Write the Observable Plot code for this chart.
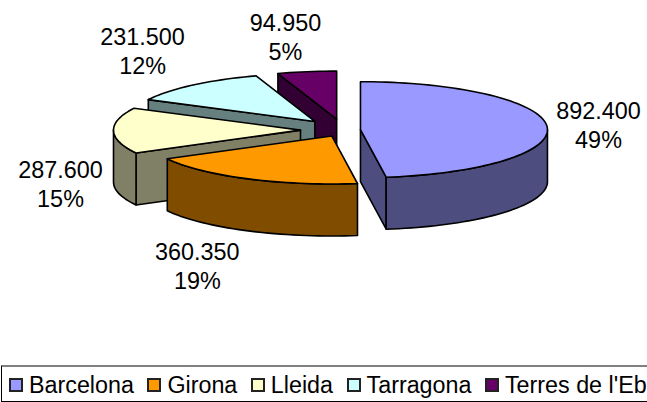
<!DOCTYPE html>
<html>
<head>
<meta charset="utf-8">
<script src="https://cdn.jsdelivr.net/npm/d3@7"></script>
<script src="https://cdn.jsdelivr.net/npm/@observablehq/plot@0.6"></script>
<style>
html,body{margin:0;padding:0;background:#fff;overflow:hidden;width:647px;height:402px}
#chart svg{display:block;background:#fff}
#legend{box-sizing:border-box;height:37px;width:700px;border:1px solid #000;border-top:2px solid #808080;
 position:absolute;left:1px;top:365px;white-space:nowrap;font:23.3px "Liberation Sans",Arial,sans-serif;color:#000;display:flex;align-items:center;padding-left:7px;padding-top:3px}
#legend .sw{display:inline-block;box-sizing:border-box;width:14px;height:14px;border:2px solid #222;margin-right:6px}
#legend .it{display:inline-flex;align-items:center;margin-right:13.5px;line-height:1}
</style>
</head>
<body>
<div id="chart"></div>
<div id="legend"></div>
<script>
const names = ["Barcelona", "Girona", "Lleida", "Tarragona", "Terres de l'Ebre"];
const values = [892.4, 360.35, 287.6, 231.5, 94.95];
const valueLabels = ["892.400", "360.350", "287.600", "231.500", "94.950"];
const percentLabels = ["49%", "19%", "15%", "12%", "5%"];
const topColors = ["#9999FF", "#FF9900", "#FFFFCC", "#CCFFFF", "#660066"];
const sideColors = ["#4D4D80", "#804D00", "#808066", "#668080", "#330033"];

// Pie geometry settings, like a spreadsheet's 3-D pie options
const pie = {cx: 343, cy: 129.5, rx: 187, ry: 48, depth: 52};
const explosion = [17, 26, 43, 44, 43];
const labelOffset = [[51.5, -2], [-50, 86.5], [-53, 52.5], [-50.5, -35], [-21.5, -35.5]];
const drawOrder = [4, 3, 2, 1, 0];

const total = d3.sum(values);
const rad = d => d * Math.PI / 180;
let acc = 0;
const slices = values.map((v, i) => {
  const a0 = acc / total * 360;
  acc += v;
  const a1 = acc / total * 360;
  const mid = (a0 + a1) / 2;
  const cx = pie.cx + explosion[i] * Math.sin(rad(mid));
  const cy = pie.cy - explosion[i] * Math.cos(rad(mid)) * pie.ry / pie.rx;
  const at = (deg, z = 0) => ({
    x: cx + pie.rx * Math.sin(rad(deg)),
    y: cy - pie.ry * Math.cos(rad(deg)) + z
  });
  return {i, a0, a1, mid, cx, cy, at};
});

function arc(s, from, to, z = 0) {
  const n = Math.max(2, Math.ceil((to - from) / 2));
  return d3.range(n + 1).map(k => s.at(from + (to - from) * k / n, z));
}

const polygons = [];
for (const idx of drawOrder) {
  const s = slices[idx];
  const d = pie.depth;
  const apex = {x: s.cx, y: s.cy};
  const apexLow = {x: s.cx, y: s.cy + d};
  const side = sideColors[idx], top = topColors[idx];
  // radial wall at the slice start
  if (Math.sin(rad(s.a0)) < -1e-6) {
    polygons.push({fill: side, pts: [apex, s.at(s.a0), s.at(s.a0, d), apexLow, apex]});
  }
  // radial wall at the slice end
  if (Math.sin(rad(s.a1)) > 1e-6) {
    polygons.push({fill: side, pts: [apex, s.at(s.a1), s.at(s.a1, d), apexLow, apex]});
  }
  // outer wall, front half only
  const f0 = Math.max(s.a0, 90), f1 = Math.min(s.a1, 270);
  if (f1 > f0) {
    const upper = arc(s, f0, f1);
    const lower = arc(s, f0, f1, d).reverse();
    polygons.push({fill: side, pts: [...upper, ...lower, upper[0]]});
  }
  // top face
  polygons.push({fill: top, pts: [apex, ...arc(s, s.a0, s.a1), apex]});
}

const labels = slices.map(s => {
  const p = s.at(s.mid);
  return {x: p.x + labelOffset[s.i][0], y: p.y + labelOffset[s.i][1],
          text: valueLabels[s.i] + "\n" + percentLabels[s.i]};
});

const chart = Plot.plot({
  width: 647,
  height: 365,
  margin: 0,
  x: {domain: [0, 647], range: [0, 647], axis: null},
  y: {domain: [0, 365], range: [0, 365], axis: null},
  marks: [
    ...polygons.map(p => Plot.line(p.pts, {
      x: "x", y: "y", fill: p.fill, stroke: "#000", strokeWidth: 1.6, strokeLinejoin: "round"
    })),
    Plot.text(labels, {
      x: "x", y: "y", text: "text", fontSize: 23.4, lineHeight: 1.24,
      fontFamily: "'Liberation Sans', Arial, sans-serif", fill: "#000"
    })
  ]
});
document.getElementById("chart").append(chart);

const legend = d3.select("#legend");
names.forEach((n, i) => {
  const it = legend.append("span").attr("class", "it");
  it.append("span").attr("class", "sw").style("background", topColors[i]);
  it.append("span").text(n);
});
</script>
</body>
</html>
